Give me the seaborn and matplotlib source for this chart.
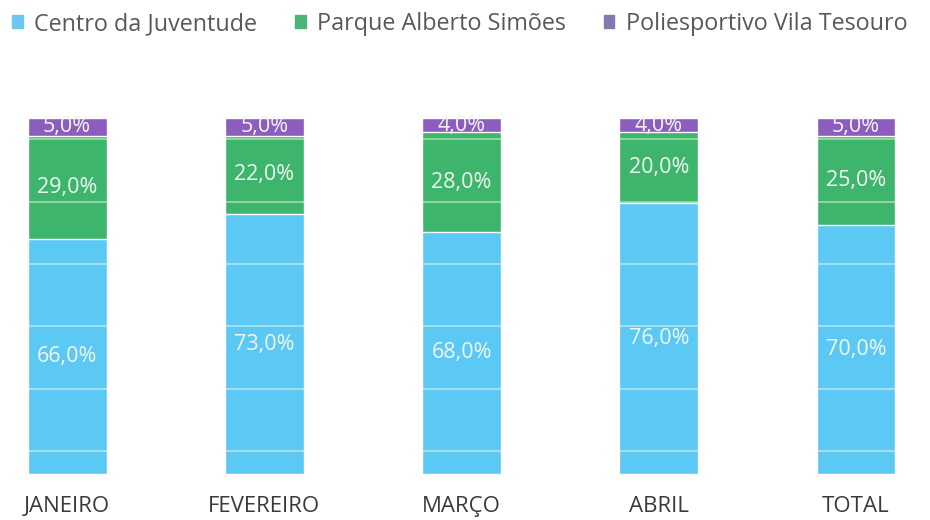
import matplotlib
matplotlib.use("Agg")
import matplotlib.pyplot as plt
import matplotlib.patches as mpatches
import numpy as np
import pandas as pd
import seaborn as sns

# Shares of attendance per venue, by month
months = ["JANEIRO", "FEVEREIRO", "MARÇO", "ABRIL", "TOTAL"]
centro = [66.0, 73.0, 68.0, 76.0, 70.0]
parque = [29.0, 22.0, 28.0, 20.0, 25.0]
polies = [5.0, 5.0, 4.0, 4.0, 5.0]
series_names = ["Centro da Juventude", "Parque Alberto Simões", "Poliesportivo Vila Tesouro"]

colors = ["#5CC8F4", "#3DB56C", "#8C5CBE"]
legend_colors = ["#6CC6EE", "#4BB477", "#8478AE"]
BAR_W = 0.4

sns.set_theme(style="white")
plt.rcParams["font.family"] = ["Open Sans", "DejaVu Sans"]

df = pd.DataFrame({"mes": months, "centro": centro, "parque": parque, "polies": polies})
df["c1"] = df["centro"]
df["c2"] = df["centro"] + df["parque"]
df["c3"] = df["c2"] + df["polies"]

fig = plt.figure(figsize=(9.3, 5.2), dpi=100)
ax = fig.add_axes([0.0, 0.0885, 1.0, 0.6846])

# Stack by overdrawing cumulative totals, tallest first
for col, c in zip(["c3", "c2", "c1"], colors[::-1]):
    sns.barplot(data=df, x="mes", y=col, color=c, width=BAR_W, saturation=1,
                ax=ax, order=months, zorder=2)

ax.set_xlim(-0.34, 4.375)
ax.set_ylim(0, 100)

# faint horizontal rules, visible only across the bars
levels = np.arange(6.5, 100, 17.5)
for i in range(len(months)):
    ax.hlines(levels, i - BAR_W / 2, i + BAR_W / 2, color="#FFFFE0",
              alpha=0.5, lw=1.2, zorder=3)

# value labels centred in each segment
for i in range(len(months)):
    segs = [(0, centro[i]), (centro[i], parque[i]), (centro[i] + parque[i], polies[i])]
    for (b, h) in segs:
        ax.text(i, b + h / 2, f"{h:.1f}".replace(".", ",") + "%",
                ha="center", va="center", fontsize=15.5, color="#F0F7F2", zorder=4)

ax.set_xlabel("")
ax.set_ylabel("")
ax.set_yticks([])
ax.tick_params(axis="x", length=0, pad=15.5, labelsize=16, labelcolor="#3A3A3A")
for s in ax.spines.values():
    s.set_visible(False)

handles = [mpatches.Patch(color=c, label=n) for c, n in zip(legend_colors, series_names)]
fig.legend(handles=handles, loc="upper left", bbox_to_anchor=(0.003, 0.995), ncol=3,
           frameon=False, fontsize=16.8, labelcolor="#595959", handlelength=0.45,
           handleheight=0.45, handletextpad=0.5, columnspacing=1.62, borderaxespad=0)

fig.savefig("out.png", dpi=100, facecolor="white")
